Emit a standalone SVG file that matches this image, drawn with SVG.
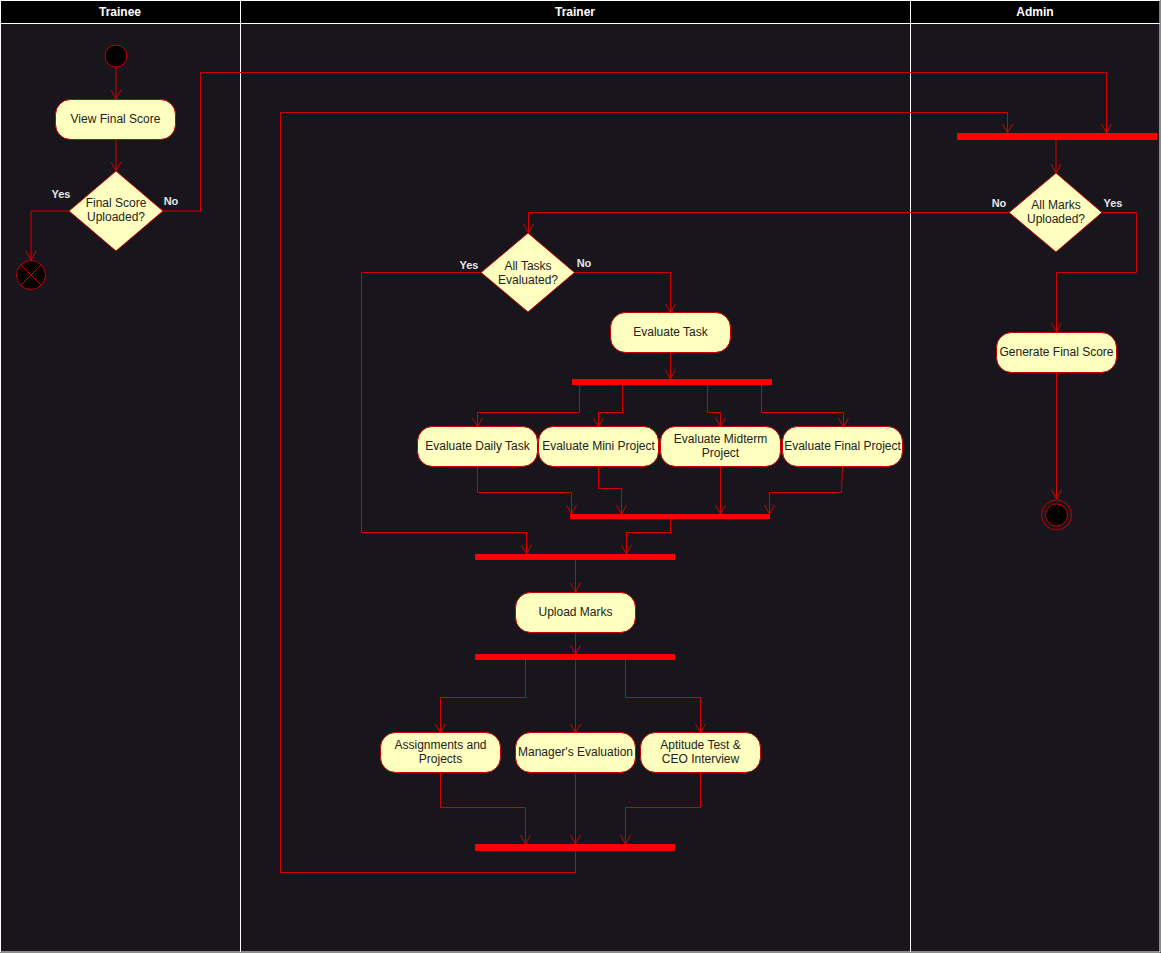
<svg xmlns="http://www.w3.org/2000/svg" width="1161" height="953" viewBox="0 0 1161 953">
<style>
.lane{fill:#18151d}
.hdr{fill:#000}
.hdrt{font-family:"Liberation Sans",Arial,sans-serif;font-size:12px;font-weight:bold;fill:#fff;text-anchor:middle}
.div{stroke:#fff;stroke-width:1;fill:none}
.act{fill:#ffffc0;stroke:#c80000;stroke-width:1}
.t{font-family:"Liberation Sans",Arial,sans-serif;font-size:12px;fill:#222;text-anchor:middle}
.bar{fill:#ff0000}
.ea{fill:none;stroke:#d40000;stroke-width:1;marker-end:url(#arr)}
.lbl{font-family:"Liberation Sans",Arial,sans-serif;font-size:11px;font-weight:bold;fill:#e6e6e6;text-anchor:middle}
</style>
<defs>
<marker id="arr" markerUnits="userSpaceOnUse" markerWidth="12" markerHeight="12" refX="10" refY="5.5" orient="auto" viewBox="0 0 12 12">
<path d="M1,0.5 L10,5.5 L1,10.5" fill="none" stroke="#d40000" stroke-width="1"/>
</marker>
</defs>
<rect x="0" y="0" width="1161" height="953" class="lane"/>
<g id="lanes">
<rect x="0.5" y="0.5" width="1159.5" height="23" class="hdr"/>
<text x="120" y="16" class="hdrt">Trainee</text>
<text x="575" y="16" class="hdrt">Trainer</text>
<text x="1035" y="16" class="hdrt">Admin</text>
<rect x="0.5" y="0.5" width="1159.5" height="951.5" class="div"/>
<line x1="0.5" y1="23.5" x2="1160" y2="23.5" class="div"/>
<line x1="240.5" y1="0" x2="240.5" y2="952" class="div"/>
<line x1="910.5" y1="0" x2="910.5" y2="952" class="div"/>
</g>
<g id="connectors">
<path d="M116,67 V99" class="ea"/>
<path d="M116,139 V171" class="ea"/>
<path d="M69,211 H31 V260" class="ea"/>
<path d="M163,211 H200.5 V72.5 H1106.5 V133" class="ea"/>
<path d="M575.5,851 V872.5 H280.5 V112.5 H1007.5 V133" class="ea"/>
<path d="M1056,140 V173" class="ea"/>
<path d="M1009,212.5 H528.5 V233" class="ea"/>
<path d="M1102,212.5 H1136.5 V272.5 H1056.5 V332" class="ea"/>
<path d="M1056.5,372 V499" class="ea"/>
<path d="M481,272.5 H361.5 V532.5 H526.5 V554" class="ea"/>
<path d="M574,272.5 H670.5 V313" class="ea"/>
<path d="M670.5,352 V379" class="ea"/>
<path d="M579.5,385 V412.5 H477.5 V427" class="ea"/>
<path d="M622.5,385 V412.5 H598.5 V427" class="ea"/>
<path d="M707.5,385 V412.5 H720.5 V427" class="ea"/>
<path d="M761.5,385 V412.5 H843.5 V427" class="ea"/>
<path d="M477.5,466 V492.5 H571.5 V514" class="ea"/>
<path d="M598.5,466 V488.5 H621.5 V514" class="ea"/>
<path d="M720.5,466 V514" class="ea"/>
<path d="M842.5,466 L841.5,492.5 H769.5 V514" class="ea"/>
<path d="M670.5,519 V532.5 H626.5 V554" class="ea"/>
<path d="M575.5,560 V592" class="ea"/>
<path d="M575.5,632 V654" class="ea"/>
<path d="M525.5,660 V697.5 H440.5 V733" class="ea"/>
<path d="M575.5,660 V733" class="ea"/>
<path d="M625.5,660 V697.5 H700.5 V733" class="ea"/>
<path d="M440.5,772 V807.5 H525.5 V844" class="ea"/>
<path d="M575.5,772 V844" class="ea"/>
<path d="M700.5,772 V807.5 H625.5 V844" class="ea"/>
<text x="61" y="198" class="lbl">Yes</text>
<text x="171" y="205" class="lbl">No</text>
<text x="999" y="207" class="lbl">No</text>
<text x="1113" y="207" class="lbl">Yes</text>
<text x="469" y="269" class="lbl">Yes</text>
<text x="584" y="267" class="lbl">No</text>
</g>
<g id="start"><circle cx="116" cy="56" r="11" fill="#000" stroke="#c80000"/></g>
<g id="viewFinalScore"><rect x="55.5" y="99.5" width="120" height="40" rx="15" class="act"/><text x="115.5" y="123" class="t">View Final Score</text></g>
<g id="finalScoreUploaded"><polygon points="116,171 163,211 116,251 69,211" class="act"/><text x="116" y="207" class="t">Final Score</text><text x="116" y="221" class="t">Uploaded?</text></g>
<g id="flowFinal"><circle cx="31" cy="275" r="14.5" fill="#000" stroke="#c80000"/><path d="M20.7,264.7 L41.3,285.3 M41.3,264.7 L20.7,285.3" stroke="#c80000" fill="none"/></g>
<g id="adminJoin"><rect x="957" y="133" width="200" height="7" class="bar"/></g>
<g id="allMarksUploaded"><polygon points="1056,173 1102,212.5 1056,252 1009,212.5" class="act"/><text x="1056" y="209" class="t">All Marks</text><text x="1056" y="223" class="t">Uploaded?</text></g>
<g id="generateFinalScore"><rect x="996.5" y="332.5" width="120" height="40" rx="15" class="act"/><text x="1056.5" y="356" class="t">Generate Final Score</text></g>
<g id="end"><circle cx="1056.5" cy="515" r="15" fill="none" stroke="#c80000"/><circle cx="1056.5" cy="515" r="11" fill="#000" stroke="#c80000"/></g>
<g id="allTasksEvaluated"><polygon points="528,233 574.5,272.5 528,312 481,272.5" class="act"/><text x="528" y="270" class="t">All Tasks</text><text x="528" y="284" class="t">Evaluated?</text></g>
<g id="evaluateTask"><rect x="610.5" y="312.5" width="120" height="40" rx="15" class="act"/><text x="670.5" y="336" class="t">Evaluate Task</text></g>
<g id="forkTasks"><rect x="572" y="379" width="200" height="6" class="bar"/></g>
<g id="evaluateDailyTask"><rect x="417.5" y="426.5" width="120" height="40" rx="15" class="act"/><text x="477.5" y="450" class="t">Evaluate Daily Task</text></g>
<g id="evaluateMiniProject"><rect x="538.5" y="426.5" width="120" height="40" rx="15" class="act"/><text x="598.5" y="450" class="t">Evaluate Mini Project</text></g>
<g id="evaluateMidtermProject"><rect x="660.5" y="426.5" width="120" height="40" rx="15" class="act"/><text x="720.5" y="443" class="t">Evaluate Midterm</text><text x="720.5" y="457" class="t">Project</text></g>
<g id="evaluateFinalProject"><rect x="782.5" y="426.5" width="120" height="40" rx="15" class="act"/><text x="842.5" y="450" class="t">Evaluate Final Project</text></g>
<g id="joinTasks"><rect x="570" y="514" width="200" height="5" class="bar"/></g>
<g id="joinUpload"><rect x="475" y="554" width="200" height="6" class="bar"/></g>
<g id="uploadMarks"><rect x="515.5" y="592.5" width="120" height="40" rx="15" class="act"/><text x="575.5" y="616" class="t">Upload Marks</text></g>
<g id="forkMarks"><rect x="475" y="654" width="200" height="6" class="bar"/></g>
<g id="assignmentsProjects"><rect x="380.5" y="732.5" width="120" height="40" rx="15" class="act"/><text x="440.5" y="749" class="t">Assignments and</text><text x="440.5" y="763" class="t">Projects</text></g>
<g id="managersEvaluation"><rect x="515.5" y="732.5" width="120" height="40" rx="15" class="act"/><text x="575.5" y="756" class="t">Manager's Evaluation</text></g>
<g id="aptitudeTest"><rect x="640.5" y="732.5" width="120" height="40" rx="15" class="act"/><text x="700.5" y="749" class="t">Aptitude Test &amp;</text><text x="700.5" y="763" class="t">CEO Interview</text></g>
<g id="joinMarks"><rect x="475" y="844" width="200" height="7" class="bar"/></g>
</svg>
